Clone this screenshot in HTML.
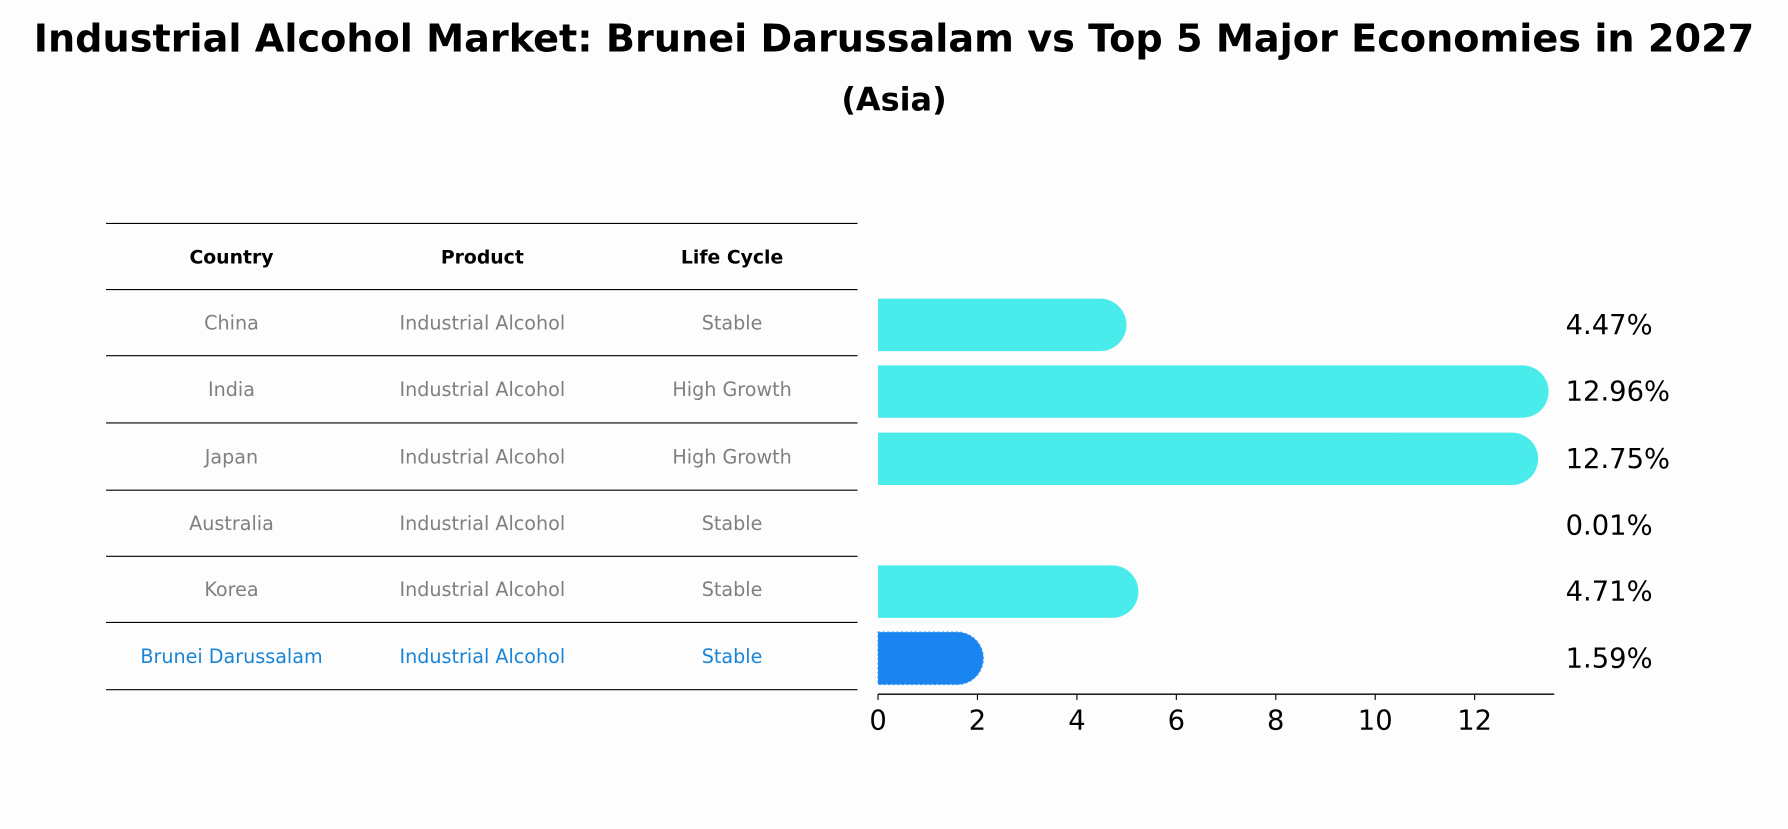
<!DOCTYPE html>
<html><head><meta charset="utf-8"><style>
html,body{margin:0;padding:0;background:#fdfdfd;overflow:hidden;width:1788px;height:823px}
#wrap{position:absolute;left:0;top:0;width:1568px;height:722px;transform:scale(1.14031,1.1399);transform-origin:0 0;font-family:"Liberation Sans","DejaVu Sans",sans-serif}
svg text{font-family:"DejaVu Sans","Liberation Sans",sans-serif}
</style></head><body>
<div id="wrap">
<svg id="svg" width="1568" height="722" xmlns="http://www.w3.org/2000/svg">
<text x="784" y="45" text-anchor="middle" font-size="33.5" font-weight="bold">Industrial Alcohol Market: Brunei Darussalam vs Top 5 Major Economies in 2027</text>
<text x="784" y="97" text-anchor="middle" font-size="28" font-weight="bold">(Asia)</text>
<g id="table"></g>
<g id="bars"></g>
</svg>
</div>
<script>
const countries=["China","India","Japan","Australia","Korea","Brunei Darussalam"];
const products=["Industrial Alcohol","Industrial Alcohol","Industrial Alcohol","Industrial Alcohol","Industrial Alcohol","Industrial Alcohol"];
const lifeCycles=["Stable","High Growth","High Growth","Stable","Stable","Stable"];
const values=[4.47,12.96,12.75,0.01,4.71,1.59];
const valueLabels=["4.47%","12.96%","12.75%","0.01%","4.71%","1.59%"];
const ticks=[0,2,4,6,8,10,12];

const NS="http://www.w3.org/2000/svg";
function mk(tag,attrs,parent,txt){const e=document.createElementNS(NS,tag);for(const k in attrs)e.setAttribute(k,attrs[k]);if(txt!==undefined)e.textContent=txt;parent.appendChild(e);return e;}
const tbl=document.getElementById('table');
const rowY=[196,254,312,371,430,488,546,605];
const colX=[203,423,642];
rowY.forEach(y=>{const l=mk('line',{x1:93,x2:752,y1:y,y2:y,stroke:'#000','stroke-width':1},tbl);

});
["Country","Product","Life Cycle"].forEach((h,i)=>{const t=mk('text',{x:colX[i],y:231,'text-anchor':'middle','font-size':16.5,'font-weight':'bold'},tbl,h);

});
countries.forEach((c,r)=>{const y=(rowY[r+1]+rowY[r+2])/2+6;const col=r===countries.length-1?'#1a85d6':'#808080';
[c,products[r],lifeCycles[r]].forEach((v,i)=>{const t=mk('text',{x:colX[i],y:y,'text-anchor':'middle','font-size':16.8,fill:col},tbl,v);

});});

const g=document.getElementById('bars');
const x0=770,pxPer=43.6;const X=v=>x0+v*pxPer;
const Y=i=>(rowY[i+1]+rowY[i+2])/2+2;
const bh=46,r=23;
values.forEach((v,i)=>{const last=i===values.length-1;const col=last?'#1a85f0':'#4aeceb';
const cy=Y(i);
if(v>0.05){const p=mk('path',{d:`M${x0},${cy-bh/2} H${X(v)} A${r},${r} 0 0 1 ${X(v)},${cy+bh/2} H${x0} Z`,fill:col,stroke:last?'#3a9af5':'none','stroke-dasharray':last?'2,2':'none'},g);

}
const t=mk('text',{x:1373,y:cy+8,'font-size':24},g,valueLabels[i]);

});
const ax=mk('line',{x1:770,x2:1363,y1:609,y2:609,stroke:'#000','stroke-width':1.2},g);


ticks.forEach(t=>{const l=mk('line',{x1:X(t),x2:X(t),y1:609,y2:614,stroke:'#000'},g);


const tx=mk('text',{x:X(t),y:640,'text-anchor':'middle','font-size':24},g,String(t));

});
</script>
</body></html>
